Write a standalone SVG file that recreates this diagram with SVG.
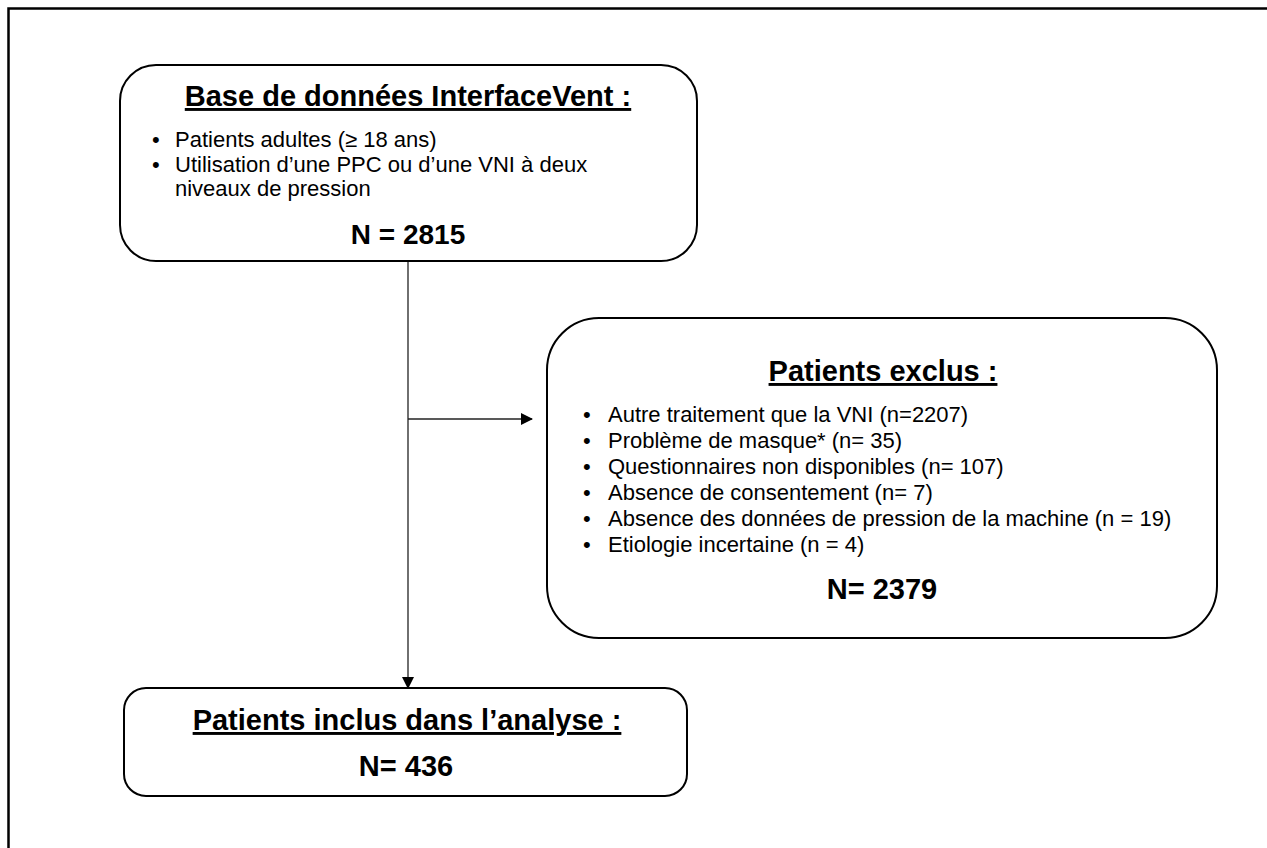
<svg xmlns="http://www.w3.org/2000/svg" width="1267" height="848" viewBox="0 0 1267 848">
<style>
.box{fill:#fff;stroke:#000;stroke-width:2}
.t{font-family:"Liberation Sans",Arial,sans-serif;font-size:29px;font-weight:bold;text-anchor:middle;text-decoration:underline}
.n{font-family:"Liberation Sans",Arial,sans-serif;font-size:27px;font-weight:bold;text-anchor:middle}
.b{font-family:"Liberation Sans",Arial,sans-serif;font-size:22px}
.c{fill:none;stroke:#222;stroke-width:1.3}
</style>
<defs>
<marker id="ah" markerWidth="12" markerHeight="12" refX="11" refY="6" orient="auto" markerUnits="userSpaceOnUse">
<path d="M0,0 L12,6 L0,12 Z" fill="#000"/>
</marker>
</defs>
<rect width="1267" height="848" fill="#fff"/>
<rect x="8.5" y="8.5" width="1300" height="900" fill="none" stroke="#000" stroke-width="2.5"/>
<g id="connectors">
<line class="c" x1="408" y1="261" x2="408" y2="688" marker-end="url(#ah)"/>
<line class="c" x1="408" y1="419" x2="532" y2="419" marker-end="url(#ah)"/>
</g>
<g id="base">
<rect class="box" x="120" y="65" width="577" height="196" rx="36"/>
<text class="t" x="408" y="106">Base de données InterfaceVent :</text>
<text class="b" x="152" y="147">•</text>
<text class="b" x="175" y="147">Patients adultes (≥ 18 ans)</text>
<text class="b" x="152" y="172">•</text>
<text class="b" x="175" y="172">Utilisation d’une PPC ou d’une VNI à deux</text>
<text class="b" x="175" y="196">niveaux de pression</text>
<text class="n" x="408" y="244" style="font-size:28px">N = 2815</text>
</g>
<g id="exclus">
<rect class="box" x="547" y="318" width="670" height="320" rx="52"/>
<text class="t" x="883" y="381">Patients exclus :</text>
<text class="b" x="583" y="422">•</text><text class="b" x="608" y="422">Autre traitement que la VNI (n=2207)</text>
<text class="b" x="583" y="448">•</text><text class="b" x="608" y="448">Problème de masque* (n= 35)</text>
<text class="b" x="583" y="474">•</text><text class="b" x="608" y="474">Questionnaires non disponibles (n= 107)</text>
<text class="b" x="583" y="500">•</text><text class="b" x="608" y="500">Absence de consentement (n= 7)</text>
<text class="b" x="583" y="526">•</text><text class="b" x="608" y="526">Absence des données de pression de la machine (n = 19)</text>
<text class="b" x="583" y="552">•</text><text class="b" x="608" y="552">Etiologie incertaine (n = 4)</text>
<text class="n" x="882" y="599" style="font-size:29px">N= 2379</text>
</g>
<g id="inclus">
<rect class="box" x="124" y="688" width="563" height="108" rx="22"/>
<text class="t" x="407" y="730">Patients inclus dans l’analyse :</text>
<text class="n" x="406" y="776" style="font-size:29px">N= 436</text>
</g>
</svg>
